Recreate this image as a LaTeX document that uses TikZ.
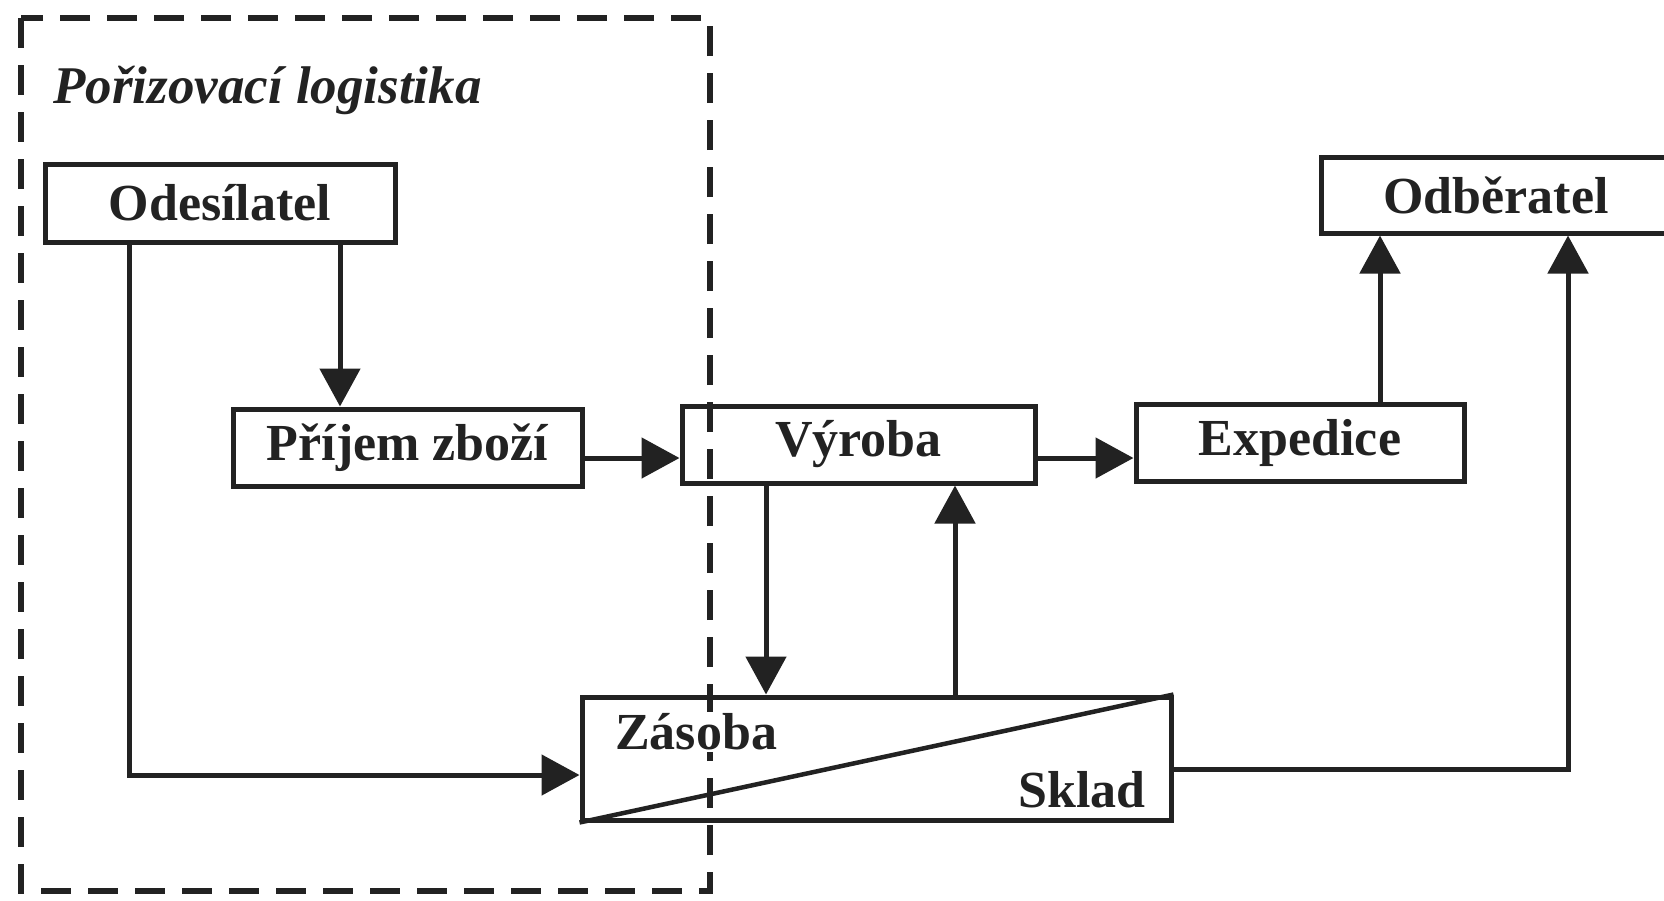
\documentclass[tikz,border=0pt]{standalone}
\usepackage{fontspec}
\setmainfont{Liberation Serif}
\usetikzlibrary{arrows.meta}
\definecolor{ink}{HTML}{222222}
\begin{document}
\begin{tikzpicture}[x=1pt,y=-1pt,
  box/.style={draw=ink, line width=5pt, inner sep=0pt, text=ink, font=\fontsize{52}{60}\selectfont\bfseries},
  lbl/.style={inner sep=0pt, text=ink, font=\fontsize{52}{60}\selectfont\bfseries},
  flow/.style={draw=ink, line width=5pt, -{Triangle[length=38pt 0, width=40pt 0]}},
  region/.style={draw=ink, line width=6pt, dash pattern=on 30pt off 17pt}]
\useasboundingbox (0,0) rectangle (1664,900);
\draw[region] (21,18) rectangle (710,891);
\node[lbl, anchor=west, font=\fontsize{53}{60}\selectfont\bfseries\itshape] (title) at (53,90) {Pořizovací logistika};
\node[box, minimum width=350pt, minimum height=78pt] (ode) at (220,203) {Odesílatel};
\node[box, minimum width=349pt, minimum height=77pt] (pri) at (407.5,447.5) {Příjem zboží};
\node[box, minimum width=353pt, minimum height=77pt] (vyr) at (858.5,444.5) {Výroba};
\node[box, minimum width=328pt, minimum height=77pt] (exp) at (1300,442.5) {Expedice};
\node[box, minimum width=350pt, minimum height=76pt] (odb) at (1496,195) {Odběratel};
\node[draw=ink, line width=5pt, inner sep=0pt, minimum width=589pt, minimum height=123pt] (zas) at (876.5,758.5) {};
\draw[draw=ink, line width=4.5pt] (zas.south west) -- (zas.north east);
\node[lbl, anchor=west, fill=white, inner sep=2pt] (zt) at (613,732) {Zásoba};
\node[lbl, anchor=east] (st) at (1146,790) {Sklad};
\coordinate (c1) at (340,0);
\draw[flow] (ode.south -| c1) -- (pri.north -| c1);
\coordinate (c2) at (129,775);
\draw[flow] (ode.south -| c2) -- (c2) -- (zas.west |- c2);
\coordinate (c3) at (0,458);
\draw[flow] (pri.east |- c3) -- (vyr.west |- c3);
\draw[flow] (vyr.east |- c3) -- (exp.west |- c3);
\coordinate (c4) at (766,0);
\draw[flow] (vyr.south -| c4) -- (zas.north -| c4);
\coordinate (c5) at (955,0);
\draw[flow] (zas.north -| c5) -- (vyr.south -| c5);
\coordinate (c6) at (1380,0);
\draw[flow] (exp.north -| c6) -- (odb.south -| c6);
\coordinate (c7) at (1568,769);
\draw[flow] (zas.east |- c7) -- (c7) -- (odb.south -| c7);
\end{tikzpicture}
\end{document}
